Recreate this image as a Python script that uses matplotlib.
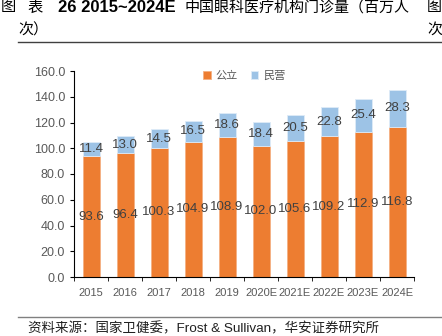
import numpy as np
import matplotlib.pyplot as plt

plt.rcParams['font.family'] = ['Liberation Sans', 'Noto Sans CJK SC', 'DejaVu Sans']

years = ['2015', '2016', '2017', '2018', '2019', '2020E', '2021E', '2022E', '2023E', '2024E']
public = [93.6, 96.4, 100.3, 104.9, 108.9, 102.0, 105.6, 109.2, 112.9, 116.8]
private = [11.4, 13.0, 14.5, 16.5, 18.6, 18.4, 20.5, 22.8, 25.4, 28.3]

orange = '#ED7D31'
blue = '#9DC3E6'
grey = '#595959'

W, H = 442, 336
fig = plt.figure(figsize=(W / 100, H / 100), dpi=100)
ax = fig.add_axes([74 / W, 1 - 277 / H, 340 / W, 206 / H])


def px(x, y):
    # pixel position (from top-left) to figure fraction
    return x / W, 1 - y / H


x = np.arange(len(years))
ax.bar(x, public, width=0.5, color=orange, edgecolor='#F4B183', linewidth=0.6, label='公立')
ax.bar(x, private, width=0.5, bottom=public, color=blue, edgecolor='#DEEBF7', linewidth=0.6, label='民营')

for i in range(len(years)):
    ax.text(x[i], public[i] / 2, f'{public[i]:.1f}', ha='center', va='center',
            fontsize=9.5, color='#404040')
    ax.text(x[i], public[i] + private[i] / 2, f'{private[i]:.1f}', ha='center', va='center',
            fontsize=9.5, color='#404040')

ax.set_xlim(-0.5, len(years) - 0.5)
ax.set_ylim(0, 160)
yt = np.arange(0, 161, 20)
ax.set_yticks(yt)
ax.set_yticklabels([f'{v:.1f}' for v in yt])
ax.set_xticks(x)
ax.set_xticklabels(years)
ax.set_xticks(np.arange(-0.5, len(years), 1), minor=True)
ax.tick_params(axis='x', which='major', length=0, labelsize=8, labelcolor=grey, pad=8)
ax.tick_params(axis='x', which='minor', length=3, direction='out', color='black')
ax.tick_params(axis='y', length=3, labelsize=9, labelcolor=grey, color='black')
for s in ['top', 'right']:
    ax.spines[s].set_visible(False)

ax.legend(loc='upper center', bbox_to_anchor=(0.5, 1.05), ncol=2, frameon=False,
          handlelength=0.7, handleheight=0.7, handletextpad=0.4, columnspacing=1.2,
          prop={'family': ['Noto Sans CJK SC'], 'size': 8}, labelcolor=grey)

# report header
cjk = ['Noto Sans CJK SC']
fig.text(*px(1, 7), '图', fontsize=11, family=cjk, va='center', ha='left')
fig.text(*px(27, 7), '表', fontsize=11, family=cjk, va='center', ha='left')
fig.text(*px(58, 7), '26 2015~2024E', fontsize=12, fontweight='bold',
         family=['Liberation Sans'], va='center', ha='left')
fig.text(*px(184, 7), '中国眼科医疗机构门诊量（百万人', fontsize=10.8, family=cjk,
         va='center', ha='left')
fig.text(*px(18, 30), '次）', fontsize=10.8, family=cjk, va='center', ha='left')
fig.text(*px(427, 7), '图', fontsize=10.8, family=cjk, va='center', ha='left')
fig.text(*px(427, 30), '次', fontsize=10.8, family=cjk, va='center', ha='left')
fig.add_artist(plt.Line2D([18 / W, 1.0], [1 - 42 / H] * 2, color='#404040', linewidth=1.0))

# source line
fig.add_artist(plt.Line2D([18 / W, 1.0], [1 - 317 / H] * 2, color='#808080', linewidth=1.0))
fig.text(*px(28, 329), '资料来源：国家卫健委，Frost & Sullivan，华安证券研究所', fontsize=9.7,
         va='center', ha='left', color='#202020')

fig.savefig('out.png', dpi=100)
